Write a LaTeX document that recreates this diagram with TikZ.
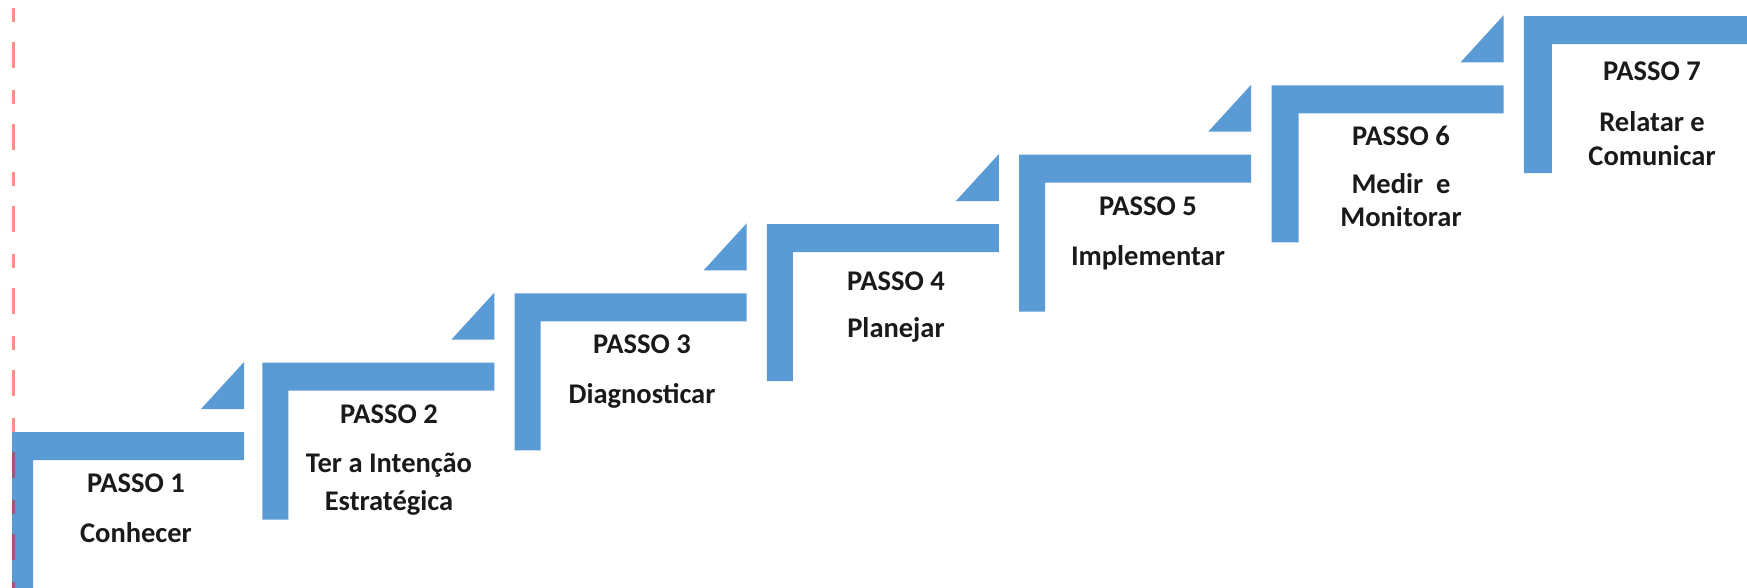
\documentclass[tikz,border=0pt]{standalone}
\usepackage{fontspec}
\setmainfont{Carlito}
\definecolor{stepblue}{HTML}{5B9BD5}
\definecolor{txt}{HTML}{1A1A1A}
\begin{document}
\begin{tikzpicture}[x=1pt,y=-1pt,
  stepshape/.style={fill=stepblue,draw=none},
  steptext/.style={anchor=base,inner sep=0pt,text=txt,font=\fontsize{28.5}{33}\selectfont\bfseries}]
\useasboundingbox (0,0) rectangle (1747,588);
\fill[white] (0,0) rectangle (1747,588);
\begin{scope}
\clip (0,0) rectangle (1747,588);
\foreach \k/\L/\vw in {1/12/21,2/262.3/26,3/514.6/26,4/766.9/26,5/1019.2/26,6/1271.5/27,7/1523.8/28}{
  \pgfmathsetmacro{\T}{432-69.33*(\k-1)}
  \fill[stepshape] (\L,\T) -- ++(232,0) -- ++(0,28) -- (\L+\vw,\T+28) -- (\L+\vw,\T+157) -- (\L,\T+157) -- cycle;
  \ifnum\k<7
    \fill[stepshape] (\L+232,\T-70) -- (\L+232,\T-23) -- (\L+189,\T-23) -- cycle;
  \fi
}
\end{scope}
% texts
\node[steptext] (p1) at (136,432+51+9) {PASSO 1};
\node[steptext] (t1) at (136,432+101+9) {Conhecer};
\node[steptext] (p2) at (389,362.67+52+9) {PASSO 2};
\node[steptext] (t2a) at (389,362.67+101+9) {Ter a Intenção};
\node[steptext] (t2b) at (389,362.67+139+9) {Estratégica};
\node[steptext] (p3) at (642,293.34+51+9) {PASSO 3};
\node[steptext] (t3) at (642,293.34+101+9) {Diagnosticar};
\node[steptext] (p4) at (896,224+57+9) {PASSO 4};
\node[steptext] (t4) at (896,224+104+9) {Planejar};
\node[steptext] (p5) at (1148,154.68+52+9) {PASSO 5};
\node[steptext] (t5) at (1148,154.68+102+9) {Implementar};
\node[steptext] (p6) at (1401,85.35+51+9) {PASSO 6};
\node[steptext] (t6a) at (1401,85.35+99+9) {Medir~ e};
\node[steptext] (t6b) at (1401,85.35+132+9) {Monitorar};
\node[steptext] (p7) at (1652,16+56+9) {PASSO 7};
\node[steptext] (t7a) at (1652,16+107+9) {Relatar e};
\node[steptext] (t7b) at (1652,16+141+9) {Comunicar};
% red dashed guide
\coordinate (r0) at (13.5,8);
\coordinate (r1) at (13.5,588);
\draw[red,opacity=0.45,line width=3pt,dash pattern=on 14pt off 20pt on 26pt off 22pt] (r0) -- (r1);
\end{tikzpicture}
\end{document}
